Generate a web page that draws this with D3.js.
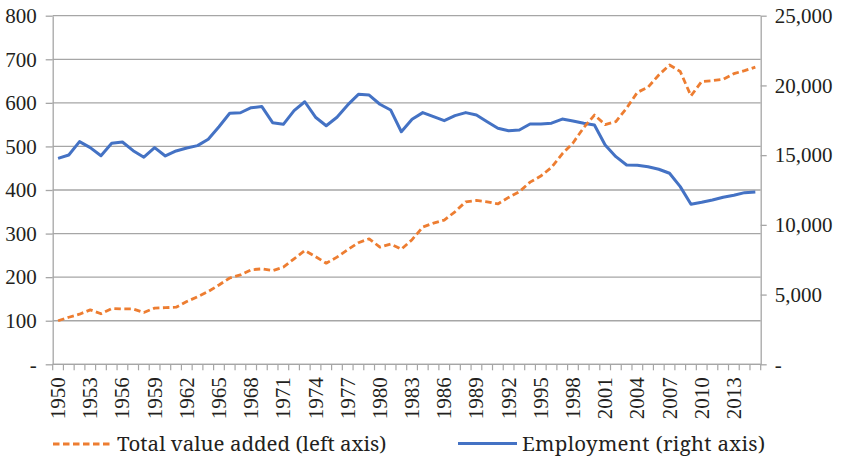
<!DOCTYPE html>
<html>
<head>
<meta charset="utf-8">
<script src="https://cdn.jsdelivr.net/npm/d3@7"></script>
<style>
  html, body { margin: 0; padding: 0; background: #fff; }
  svg { display: block; }
  svg text { fill: #231f20; }
</style>
</head>
<body>
<svg id="chart" width="843" height="458" font-family="Liberation Serif, Times New Roman, serif"></svg>
<script>
// ---- Data ----
const years = d3.range(1950, 2016);
const valueAdded = [
  100, 108, 115, 125, 116, 128, 127, 127, 119, 129,
  130, 131, 144, 155, 167, 182, 198, 205, 217, 219,
  215, 223, 242, 261, 247, 232, 246, 263, 279, 288,
  269, 276, 264, 286, 315, 324, 331, 350, 373, 376,
  373, 368, 383, 396, 418, 432, 452, 483, 508, 543,
  572, 550, 557, 588, 624, 636, 664, 687, 672, 616,
  649, 651, 654, 667, 674, 682
];
const employment = [
  14770, 15010, 15970, 15540, 14960, 15850, 15940, 15320, 14850, 15540,
  14940, 15300, 15510, 15680, 16140, 17040, 18000, 18040, 18400, 18480,
  17330, 17210, 18190, 18830, 17720, 17110, 17720, 18600, 19360, 19310,
  18650, 18240, 16680, 17570, 18050, 17760, 17470, 17830, 18050, 17880,
  17400, 16930, 16750, 16800, 17230, 17230, 17290, 17590, 17450, 17290,
  17160, 15730, 14890, 14290, 14270, 14170, 13990, 13700, 12740, 11480,
  11620, 11780, 11980, 12120, 12310, 12360
];
const leftTicks = [0, 100, 200, 300, 400, 500, 600, 700, 800];
const rightTicks = [0, 5000, 10000, 15000, 20000, 25000];
const labelYears = years.filter((y, i) => i % 3 === 0);
const seriesNames = ["Total value added (left axis)", "Employment (right axis)"];
const colors = { va: "#ED7D31", emp: "#4472C4" };

// ---- Layout ----
const L = 52.7, R = 760.7, T = 15.7, B = 364.3;
const gridColor = "#a6a6a6";
const FONT = "Liberation Serif, Times New Roman, serif";
const LEGFONT = "Noto Serif, Liberation Serif, serif";
const fmt = v => v === 0 ? "-" : d3.format(",")(v);

const svg = d3.select("#chart");

const x = d3.scaleBand().domain(years).range([L, R]).padding(0);
const cx = y => x(y) + x.bandwidth() / 2;
const yL = d3.scaleLinear().domain([0, 800]).range([B, T]);
const yR = d3.scaleLinear().domain([0, 25000]).range([B, T]);

// gridlines
svg.append("g").selectAll("line").data(leftTicks).join("line")
  .attr("x1", L).attr("x2", R)
  .attr("y1", d => yL(d)).attr("y2", d => yL(d))
  .attr("stroke", gridColor).attr("stroke-width", 1.3);

// left axis
const gL = svg.append("g").attr("transform", `translate(${L},0)`)
  .call(d3.axisLeft(yL).tickValues(leftTicks).tickFormat(fmt).tickSize(7).tickSizeOuter(0).tickPadding(9));
// right axis
const gR = svg.append("g").attr("transform", `translate(${R},0)`)
  .call(d3.axisRight(yR).tickValues(rightTicks).tickFormat(fmt).tickSize(6).tickSizeOuter(0).tickPadding(8));
[gL, gR].forEach(g => {
  g.attr("font-family", FONT).attr("font-size", 21);
  g.select(".domain").attr("stroke", gridColor).attr("stroke-width", 1.3);
  g.selectAll(".tick line").attr("stroke", gridColor).attr("stroke-width", 1.3);
  g.selectAll(".tick text").attr("font-size", 21).attr("fill", "#231f20")
    .attr("font-family", FONT);
});

// bottom axis
const gB = svg.append("g").attr("font-family", FONT);
gB.append("line").attr("x1", L).attr("x2", R).attr("y1", B).attr("y2", B)
  .attr("stroke", gridColor).attr("stroke-width", 1.3);
const boundaries = years.map(y => x(y)).concat([R]);
gB.selectAll("line.tk").data(boundaries).join("line").attr("class", "tk")
  .attr("x1", d => d).attr("x2", d => d).attr("y1", B).attr("y2", B + 6)
  .attr("stroke", gridColor).attr("stroke-width", 1.2);
gB.selectAll("text").data(labelYears).join("text")
  .attr("transform", d => `translate(${cx(d) + 7},${B + 13}) rotate(-90)`)
  .attr("text-anchor", "end")
  .attr("font-size", 21)
  .attr("font-family", FONT)
  .text(d => d);

// lines
const lineVA = d3.line().x((d, i) => cx(years[i])).y(d => yL(d));
const lineEmp = d3.line().x((d, i) => cx(years[i])).y(d => yR(d));
svg.append("path").datum(employment).attr("d", lineEmp)
  .attr("fill", "none").attr("stroke", colors.emp).attr("stroke-width", 3)
  .attr("stroke-linejoin", "round");
svg.append("path").datum(valueAdded).attr("d", lineVA)
  .attr("fill", "none").attr("stroke", colors.va).attr("stroke-width", 2.8)
  .attr("stroke-dasharray", "6.5,3.5").attr("stroke-linejoin", "round");

// legend
const leg = svg.append("g").attr("font-family", LEGFONT);
leg.append("line").attr("x1", 53).attr("x2", 110).attr("y1", 444).attr("y2", 444)
  .attr("stroke", colors.va).attr("stroke-width", 2.8).attr("stroke-dasharray", "6.5,3.5");
leg.append("text").attr("x", 117).attr("y", 451).attr("font-size", 20.5)
  .attr("font-family", LEGFONT).text(seriesNames[0]);
leg.append("line").attr("x1", 458).attr("x2", 517).attr("y1", 443.5).attr("y2", 443.5)
  .attr("stroke", colors.emp).attr("stroke-width", 3);
leg.append("text").attr("x", 522).attr("y", 451).attr("font-size", 20.5)
  .attr("font-family", LEGFONT).attr("letter-spacing", 0.3).text(seriesNames[1]);
</script>
</body>
</html>
